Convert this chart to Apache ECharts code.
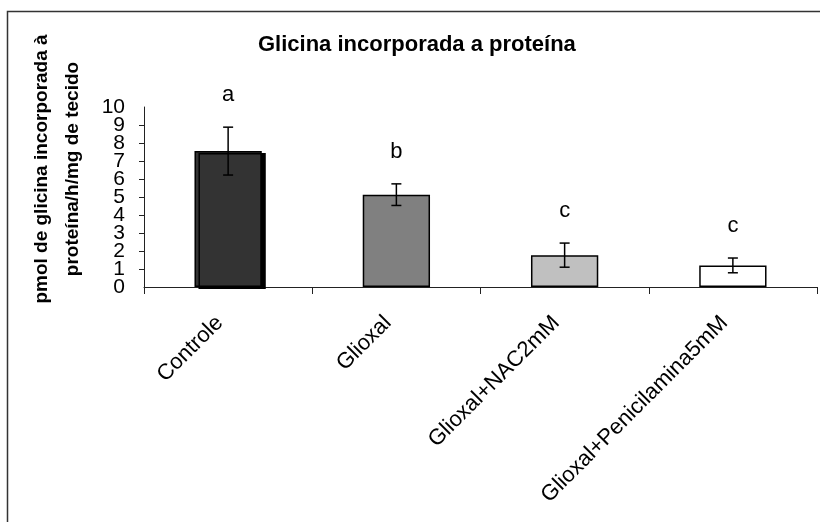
<!DOCTYPE html>
<html>
<head>
<meta charset="utf-8">
<script src="https://cdn.jsdelivr.net/npm/echarts/dist/echarts.min.js"></script>
<style>
  html, body { margin: 0; padding: 0; background: #fff; }
  #chart { width: 820px; height: 522px; }
</style>
</head>
<body>
<div id="chart"></div>
<script>
// ---- data ----
const categories = ['Controle', 'Glioxal', 'Glioxal+NAC2mM', 'Glioxal+Penicilamina5mM'];
const means = [7.55, 5.13, 1.77, 1.20];
const errors = [1.33, 0.60, 0.67, 0.41];
const letters = ['a', 'b', 'c', 'c'];
const chartTitle = 'Glicina incorporada a proteína';
const yTitle = 'pmol de glicina incorporada à\nproteína/h/mg de tecido';
const yMin = 0, yMax = 10, yStep = 1;

// ---- styles ----
const FONT = '"Liberation Sans", Arial, sans-serif';
const FILLS = ['#333333', '#808080', '#c0c0c0', '#ffffff'];

const chart = echarts.init(document.getElementById('chart'));

const barData = means.map((v, i) => {
  const item = { value: v, itemStyle: { color: FILLS[i], borderColor: '#000', borderWidth: 1.5 } };
  if (i === 0) {
    item.itemStyle.shadowColor = '#000';
    item.itemStyle.shadowOffsetX = 4;
    item.itemStyle.shadowOffsetY = 2;
    item.itemStyle.shadowBlur = 0;
  }
  return item;
});

const errData = means.map((m, i) => [i, m, errors[i]]);

const yLabelStyle = { margin: 19, fontFamily: FONT, fontSize: 21, color: '#000' };

chart.setOption({
  animation: false,
  backgroundColor: '#fff',
  textStyle: { fontFamily: FONT },
  title: {
    text: chartTitle,
    left: 258,
    top: 34,
    padding: 0,
    textStyle: { fontFamily: FONT, fontSize: 22, fontWeight: 'bold', color: '#000' }
  },
  graphic: [
    {
      type: 'rect',
      shape: { x: 7.5, y: 11.5, width: 1000, height: 1000 },
      style: { fill: 'none', stroke: '#333', lineWidth: 1.5 },
      silent: true
    },
    {
      type: 'text',
      x: 496, y: -20,
      style: { text: 'p', font: 'bold 40px ' + FONT, fill: '#000', align: 'center', verticalAlign: 'middle' },
      silent: true
    },
    {
      type: 'text',
      x: 57, y: 169,
      rotation: Math.PI / 2,
      style: {
        text: yTitle,
        font: 'bold 19px ' + FONT,
        fill: '#000',
        align: 'center',
        verticalAlign: 'middle',
        lineHeight: 31
      },
      silent: true
    }
  ],
  grid: { left: 144, right: 3, top: 107, bottom: 235, containLabel: false },
  xAxis: {
    type: 'category',
    data: categories,
    axisLine: { lineStyle: { color: '#222', width: 1 } },
    axisTick: { show: true, length: 7, lineStyle: { color: '#222' } },
    axisLabel: {
      rotate: 45,
      margin: 24,
      padding: [0, 12, 0, 0],
      fontFamily: FONT,
      fontSize: 22,
      color: '#000',
      interval: 0
    },
    splitLine: { show: false }
  },
  yAxis: [
    {
      type: 'value',
      min: yMin,
      max: yMax,
      interval: yStep,
      axisLine: { show: true, lineStyle: { color: '#222', width: 1 } },
      axisTick: { show: true, length: 5, lineStyle: { color: '#222' } },
      axisLabel: Object.assign({ showMinLabel: false, showMaxLabel: false }, yLabelStyle),
      splitLine: { show: false }
    },
    {
      type: 'value',
      position: 'left',
      min: yMin,
      max: yMax,
      interval: yStep,
      axisLine: { show: false },
      axisTick: { show: false },
      axisLabel: Object.assign({
        showMinLabel: true, showMaxLabel: true,
        formatter: function (v) { return (v === yMin || v === yMax) ? String(v) : ''; }
      }, yLabelStyle),
      splitLine: { show: false }
    }
  ],
  series: [
    {
      type: 'bar',
      data: barData,
      barCategoryGap: '60%',
      z: 2
    },
    {
      type: 'custom',
      data: errData,
      clip: false,
      z: 3,
      renderItem: function (params, api) {
        const i = api.value(0);
        const m = api.value(1);
        const e = api.value(2);
        const top = api.coord([i, m + e]);
        const bot = api.coord([i, m - e]);
        const hw = 5;
        const ls = { stroke: '#000', lineWidth: 1.5 };
        return {
          type: 'group',
          children: [
            { type: 'line', shape: { x1: top[0], y1: top[1], x2: bot[0], y2: bot[1] }, style: ls },
            { type: 'line', shape: { x1: top[0] - hw, y1: top[1], x2: top[0] + hw, y2: top[1] }, style: ls },
            { type: 'line', shape: { x1: bot[0] - hw, y1: bot[1], x2: bot[0] + hw, y2: bot[1] }, style: ls },
            {
              type: 'text',
              x: top[0], y: top[1] - 32,
              style: { text: letters[i], font: '22px ' + FONT, fill: '#000', align: 'center', verticalAlign: 'middle' }
            }
          ]
        };
      }
    }
  ]
});
</script>
</body>
</html>
